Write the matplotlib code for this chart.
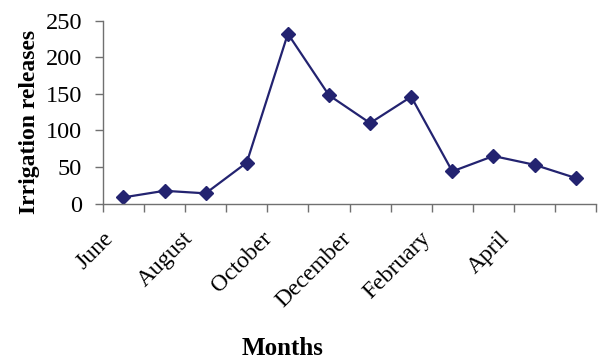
import numpy as np
import matplotlib
matplotlib.use('Agg')
import matplotlib.pyplot as plt
from matplotlib.transforms import ScaledTranslation

months = ['June', 'July', 'August', 'September', 'October', 'November',
          'December', 'January', 'February', 'March', 'April', 'May']
releases = [8.5, 17.5, 14, 56, 232, 148, 110, 146, 44, 65, 53, 35]
y_ticks = [0, 50, 100, 150, 200, 250]

plt.rcParams['font.family'] = ['Liberation Serif', 'DejaVu Serif']

fig = plt.figure(figsize=(5.98, 3.61), dpi=100)
ax = fig.add_axes([0.172, 0.436, 0.825, 0.507])

x = np.arange(len(months))
ax.plot(x, releases, color='#232370', lw=1.6, marker='D', markersize=7,
        markerfacecolor='#232370', markeredgecolor='#232370', clip_on=False)

ax.set_xlim(-0.5, len(months) - 0.5)
ax.set_ylim(0, 250)
ax.set_yticks(y_ticks)
ax.set_yticklabels([str(v) for v in y_ticks], fontsize=17.5)

# tick marks sit between categories, labels on every other month
ax.set_xticks(np.arange(-0.5, len(months), 1))
ax.set_xticklabels([])
ax.set_xticks(x[::2], minor=True)
ax.set_xticklabels(months[::2], minor=True, rotation=45, ha='right',
                   rotation_mode='anchor', fontsize=17)
ax.tick_params(axis='x', which='major', direction='out', length=6,
               color='#707070', width=1)
ax.tick_params(axis='x', which='minor', length=0, pad=14)
ax.tick_params(axis='y', direction='out', length=6, color='#707070',
               width=1, pad=9)

# nudge the slanted month names left so they end just before the point
for k, lbl in enumerate(ax.get_xticklabels(minor=True)):
    shift = ScaledTranslation(-0.21 - 0.028 * k, -0.05, fig.dpi_scale_trans)
    lbl.set_transform(lbl.get_transform() + shift)

for side in ['top', 'right']:
    ax.spines[side].set_visible(False)
for side in ['left', 'bottom']:
    ax.spines[side].set_color('#707070')
    ax.spines[side].set_linewidth(1)

ax.set_ylabel('Irrigation releases', fontsize=17, fontweight='bold')
ax.yaxis.set_label_coords(-0.128, 0.446)
fig.text(0.472, 0.017, 'Months', fontsize=18, fontweight='bold',
         ha='center', va='baseline')

fig.savefig('out.png', dpi=100)
